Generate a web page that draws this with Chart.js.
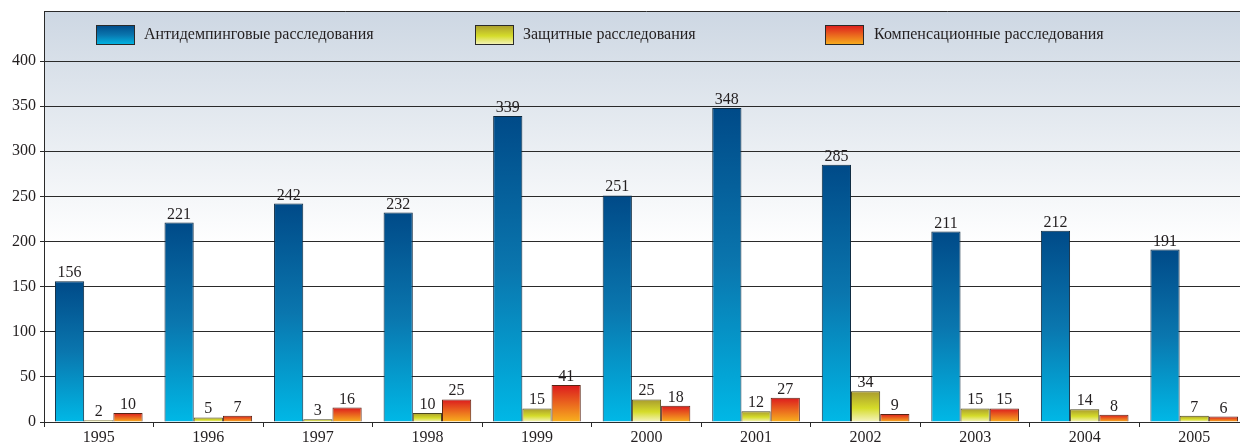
<!DOCTYPE html>
<html>
<head>
<meta charset="utf-8">
<script src="https://cdn.jsdelivr.net/npm/chart.js@4/dist/chart.umd.min.js"></script>
<style>
  html, body { margin: 0; padding: 0; background: #ffffff; overflow: hidden; }
  #wrap { width: 1252px; height: 446px; }
</style>
</head>
<body>
<div id="wrap"><canvas id="c" width="1252" height="446"></canvas></div>
<script>
// ---- data ----
const years = ['1995','1996','1997','1998','1999','2000','2001','2002','2003','2004','2005'];
const seriesNames = ['Антидемпинговые расследования', 'Защитные расследования', 'Компенсационные расследования'];
const antidumping = [156, 221, 242, 232, 339, 251, 348, 285, 211, 212, 191];
const safeguard   = [2, 5, 3, 10, 15, 25, 12, 34, 15, 14, 7];
const countervail = [10, 7, 16, 25, 41, 18, 27, 9, 15, 8, 6];
const yTicks = [0, 50, 100, 150, 200, 250, 300, 350, 400];

// ---- styles ----
const SERIF = '"Liberation Serif", "DejaVu Serif", serif';
const TEXT = '#231f20';
const gradStops = [
  [[0, '#004a88'], [0.5, '#0a76ae'], [1, '#00b8e6']],
  [[0, '#a99b2e'], [0.55, '#d5dc2a'], [1, '#f6f4c4']],
  [[0, '#dc1a1e'], [1, '#f8b21e']]
];
const solid = ['#0a6aa0', '#d0d030', '#ec5a1e'];
const borders = ['#0e2a40', '#4a4620', '#5a2414'];

function barGradient(i) {
  return function(ctx) {
    const chart = ctx.chart;
    if (ctx.type !== 'data' || !chart.chartArea) return solid[i];
    const y = chart.scales.y;
    const top = y.getPixelForValue(ctx.raw);
    const bot = y.getPixelForValue(0);
    if (!isFinite(top) || !isFinite(bot) || top === bot) return solid[i];
    const g = chart.ctx.createLinearGradient(0, top, 0, bot);
    gradStops[i].forEach(s => g.addColorStop(s[0], s[1]));
    return g;
  };
}

const FRAME_TOP = 11;

const framePlugin = {
  id: 'frame',
  beforeDraw(chart) {
    const c = chart.ctx, a = chart.chartArea;
    c.save();
    const g = c.createLinearGradient(0, FRAME_TOP, 0, 245);
    g.addColorStop(0, '#cdd7e3');
    g.addColorStop(0.3, '#dce3eb');
    g.addColorStop(1, '#ffffff');
    c.fillStyle = g;
    c.fillRect(a.left, FRAME_TOP, a.right - a.left, a.bottom - FRAME_TOP);
    c.restore();
  },
  afterDraw(chart) {
    const c = chart.ctx, a = chart.chartArea;
    c.save();
    c.strokeStyle = '#2a2a2a';
    c.lineWidth = 1;
    c.beginPath();
    c.moveTo(a.left, FRAME_TOP + 0.5);
    c.lineTo(a.right, FRAME_TOP + 0.5);
    c.moveTo(a.left + 0.5, FRAME_TOP);
    c.lineTo(a.left + 0.5, a.top);
    c.stroke();
    // legend
    const items = [
      {box: 96, text: 144},
      {box: 475, text: 523},
      {box: 825, text: 874}
    ];
    c.font = '16px ' + SERIF;
    c.textBaseline = 'middle';
    c.textAlign = 'left';
    chart.data.datasets.forEach((ds, i) => {
      const it = items[i];
      const g = c.createLinearGradient(0, 25, 0, 45);
      gradStops[i].forEach(s => g.addColorStop(s[0], s[1]));
      c.fillStyle = g;
      c.fillRect(it.box, 25, 39, 20);
      c.strokeStyle = '#2a2a2a';
      c.strokeRect(it.box + 0.5, 25.5, 38, 19);
      c.fillStyle = TEXT;
      c.fillText(ds.label, it.text, 35);
    });
    c.restore();
  },
  afterDatasetsDraw(chart) {
    const c = chart.ctx;
    c.save();
    c.font = '16px ' + SERIF;
    c.fillStyle = TEXT;
    c.textAlign = 'center';
    c.textBaseline = 'alphabetic';
    chart.data.datasets.forEach((ds, i) => {
      const meta = chart.getDatasetMeta(i);
      meta.data.forEach((bar, j) => {
        c.fillText(String(ds.data[j]), bar.x, bar.y - 4);
      });
    });
    c.restore();
  }
};

const datasets = [antidumping, safeguard, countervail].map((d, i) => ({
  label: seriesNames[i],
  data: d,
  backgroundColor: barGradient(i),
  borderColor: borders[i],
  borderWidth: 1,
  categoryPercentage: 0.8,
  barPercentage: 1.0
}));

new Chart(document.getElementById('c'), {
  type: 'bar',
  data: { labels: years, datasets },
  options: {
    responsive: false,
    animation: false,
    devicePixelRatio: 1,
    layout: { padding: { left: 0, top: 61, right: 3, bottom: 0 } },
    plugins: { legend: { display: false }, tooltip: { enabled: false } },
    scales: {
      x: {
        offset: true,
        grid: { offset: true, drawOnChartArea: false, drawTicks: true, tickLength: 5, color: '#2a2a2a', lineWidth: 1 },
        border: { display: true, color: '#2a2a2a', width: 1 },
        ticks: { font: { family: SERIF, size: 16 }, color: TEXT, padding: 1, maxRotation: 0, autoSkip: false },
        afterFit(s) { s.height = 24; }
      },
      y: {
        min: 0, max: 400,
        afterBuildTicks(s) { s.ticks = yTicks.map(v => ({ value: v })); },
        grid: { color: '#2a2a2a', lineWidth: 1, tickLength: 4, drawTicks: true },
        border: { display: true, color: '#2a2a2a', width: 1 },
        ticks: { font: { family: SERIF, size: 16 }, color: TEXT, padding: 4 },
        afterFit(s) { s.width = 44; }
      }
    }
  },
  plugins: [framePlugin]
});
</script>
</body>
</html>
